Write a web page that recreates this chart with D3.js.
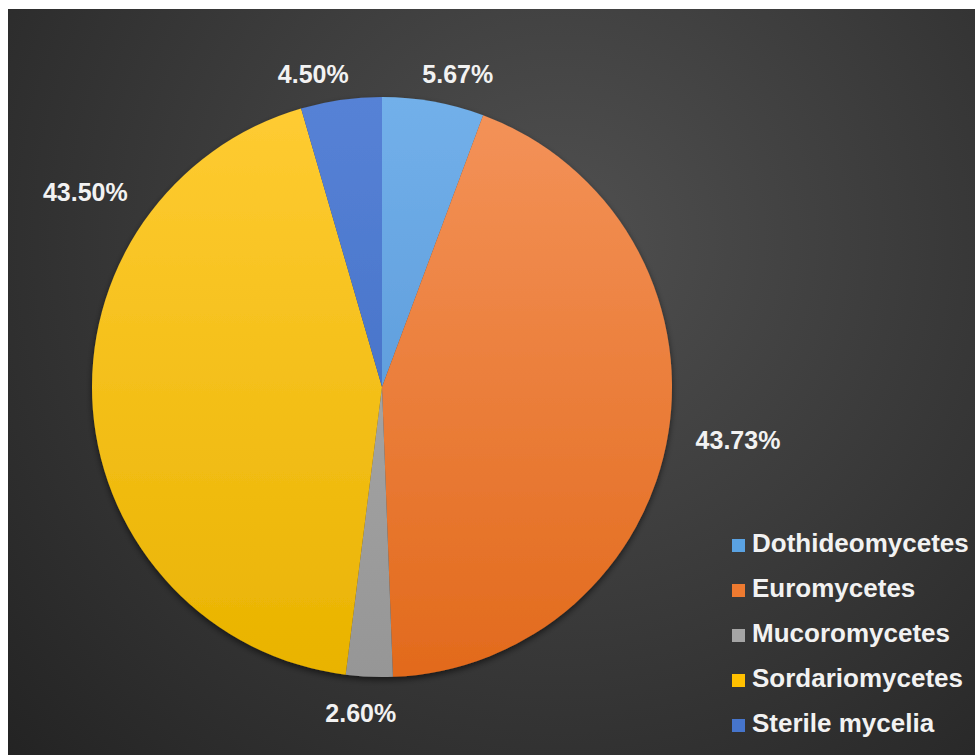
<!DOCTYPE html>
<html>
<head>
<meta charset="utf-8">
<script src="https://cdn.jsdelivr.net/npm/d3@7"></script>
<style>
  html, body { margin: 0; padding: 0; background: #ffffff; overflow: hidden; }
  text { font-family: "Liberation Sans", Arial, sans-serif; font-weight: bold; }
</style>
</head>
<body>
<div id="pieChart"></div>
<script>
// data (percent of isolates)
const categories = ['Dothideomycetes', 'Euromycetes', 'Mucoromycetes', 'Sordariomycetes', 'Sterile mycelia'];
const values = [5.67, 43.73, 2.60, 43.50, 4.50];
const labels = ['5.67%', '43.73%', '2.60%', '43.50%', '4.50%'];

// slice colours (light top, dark bottom)
const colorsLight = ['#72b0ea', '#f4935a', '#b0b0b0', '#ffcc33', '#5682d6'];
const colorsDark = ['#4f8ed0', '#e26a1c', '#969696', '#e9b300', '#3d68bf'];
const legendColors = ['#5aa2e2', '#ee7a30', '#a5a5a5', '#ffc000', '#4675cc'];

// label placement: nudge from the slice's mid angle (deg) and distance from centre
const labelNudge = [3.4, -0.6, 1.2, 37.8, -4.3];
const labelRadius = [322, 360, 327, 355, 320];

const width = 975;
const height = 755;
const cx = 382, cy = 387, radius = 290;

const svg = d3.select('#pieChart')
    .append('svg')
        .attr('width', width)
        .attr('height', height);

const defs = svg.append('defs');

// dark chart background with soft radial light
const bg = defs.append('radialGradient')
    .attr('id', 'bgGrad')
    .attr('gradientUnits', 'userSpaceOnUse')
    .attr('cx', 560).attr('cy', 240).attr('r', 760);
bg.append('stop').attr('offset', '0%').attr('stop-color', '#505050');
bg.append('stop').attr('offset', '100%').attr('stop-color', '#232323');

svg.append('rect')
    .attr('x', 8)
    .attr('y', 9)
    .attr('width', width)
    .attr('height', height)
    .attr('fill', 'url(#bgGrad)');

// vertical gradient per slice, in the pie group's coordinates
categories.forEach((c, i) => {
    const g = defs.append('linearGradient')
        .attr('id', `slice${i}`)
        .attr('gradientUnits', 'userSpaceOnUse')
        .attr('x1', 0).attr('y1', -radius)
        .attr('x2', 0).attr('y2', radius);
    g.append('stop').attr('offset', '0%').attr('stop-color', colorsLight[i]);
    g.append('stop').attr('offset', '100%').attr('stop-color', colorsDark[i]);
});

const shadow = defs.append('filter')
    .attr('id', 'pieShadow')
    .attr('x', '-20%').attr('y', '-20%')
    .attr('width', '140%').attr('height', '140%');
shadow.append('feDropShadow')
    .attr('dx', 0).attr('dy', 3)
    .attr('stdDeviation', 3)
    .attr('flood-color', '#000')
    .attr('flood-opacity', 0.55);

// create pie
const pie = d3.pie()
    .sort(null)
    .value(d => d);
const arcs = pie(values);

const arc = d3.arc()
    .innerRadius(0)
    .outerRadius(radius);

const pieG = svg.append('g')
    .attr('transform', `translate(${cx},${cy})`)
    .attr('filter', 'url(#pieShadow)');

pieG.selectAll('path')
    .data(arcs)
    .enter()
    .append('path')
        .attr('d', arc)
        .attr('fill', (d, i) => `url(#slice${i})`);

// data labels
const labelPos = (d, i) => {
    const a = (d.startAngle + d.endAngle) / 2 + labelNudge[i] * Math.PI / 180;
    return [Math.sin(a) * labelRadius[i], -Math.cos(a) * labelRadius[i]];
};

const labelG = svg.append('g')
    .attr('transform', `translate(${cx},${cy})`);

labelG.selectAll('text')
    .data(arcs)
    .enter()
    .append('text')
        .attr('x', (d, i) => labelPos(d, i)[0])
        .attr('y', (d, i) => labelPos(d, i)[1])
        .attr('dy', '0.35em')
        .attr('text-anchor', 'middle')
        .attr('fill', '#f2f2f2')
        .style('font-size', '25px')
        .text((d, i) => labels[i]);

// legend
const legendY = d3.scalePoint()
    .domain(categories)
    .range([552, 732]);

const items = svg.append('g')
    .selectAll('g')
    .data(categories)
    .enter()
    .append('g')
        .attr('transform', d => `translate(732,${legendY(d)})`);

items.append('rect')
    .attr('x', 0)
    .attr('y', -13)
    .attr('width', 13)
    .attr('height', 13)
    .attr('fill', (d, i) => legendColors[i]);

items.append('text')
    .attr('x', 20)
    .attr('y', 0)
    .attr('fill', '#f2f2f2')
    .style('font-size', '26px')
    .text(d => d);
</script>
</body>
</html>
